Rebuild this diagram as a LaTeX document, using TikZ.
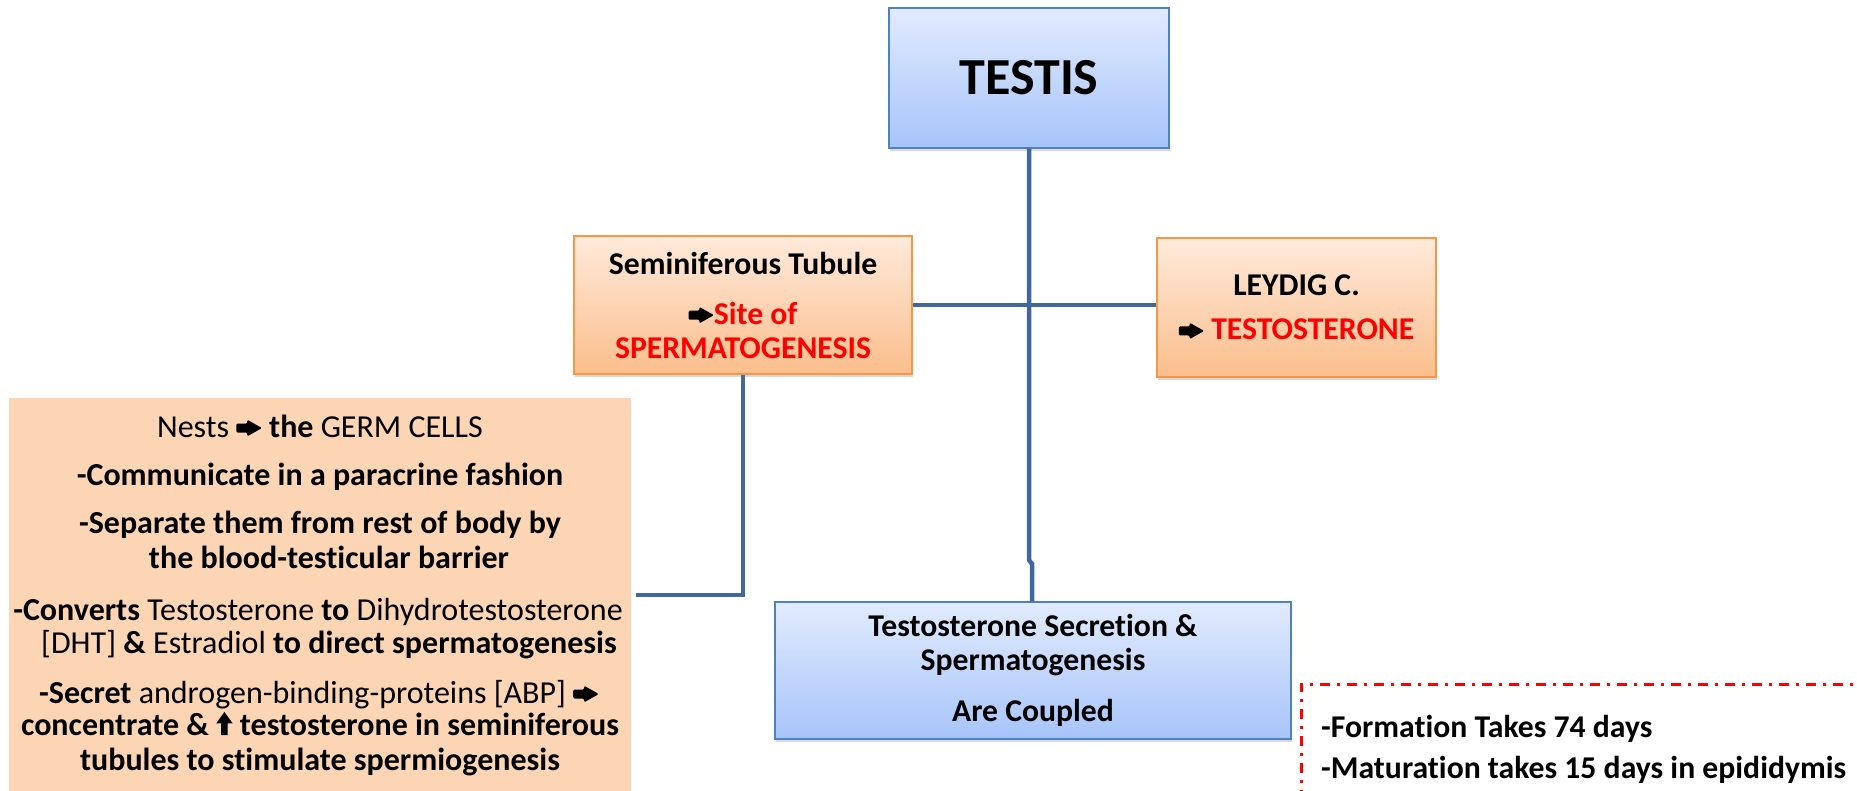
\documentclass[tikz,border=0pt]{standalone}
\usepackage{fontspec}
\setmainfont[Ligatures=NoCommon]{Carlito}
\usetikzlibrary{shadows}
\definecolor{bluetop}{HTML}{E1EBFD}
\definecolor{bluebot}{HTML}{A7C4FA}
\definecolor{blueline}{HTML}{4F81BD}
\definecolor{orgtop}{HTML}{FFEADB}
\definecolor{orgbot}{HTML}{FABE8C}
\definecolor{orgline}{HTML}{F79646}
\definecolor{conn}{HTML}{41689D}
\definecolor{peach}{HTML}{FCD5B5}
\definecolor{redtxt}{HTML}{FF0000}
\newcommand{\rarr}{\tikz[baseline=0pt]{\fill[black,rounded corners=0.04em] (0,0.14em) -- (0.34em,0.14em) -- (0.34em,0.02em) -- (0.8em,0.28em) -- (0.34em,0.54em) -- (0.34em,0.42em) -- (0,0.42em) -- cycle;}}
\newcommand{\uarr}{\tikz[baseline=0pt]{\fill[black] (-0.1em,0) -- (0.1em,0) -- (0.1em,0.36em) -- (0.26em,0.36em) -- (0,0.72em) -- (-0.26em,0.36em) -- (-0.1em,0.36em) -- cycle;}}
\begin{document}
\begin{tikzpicture}[x=1pt,y=-1pt,
  boxshadow/.style={drop shadow={opacity=0.3,shadow xshift=1pt,shadow yshift=-3pt}},
  bluebox/.style={draw=blueline,line width=1.5pt,top color=bluetop,bottom color=bluebot,boxshadow,align=center,inner sep=0pt},
  orgbox/.style={draw=orgline,line width=1.5pt,top color=orgtop,bottom color=orgbot,boxshadow,align=center,inner sep=0pt},
  link/.style={draw=conn,line width=4.5pt},
  bodyfont/.style={font=\fontsize{32}{35}\selectfont},
  boldfont/.style={font=\bfseries\fontsize{31.7}{34}\selectfont},
  ltext/.style={anchor=base,inner sep=0pt,bodyfont},
]
\useasboundingbox (0,0) rectangle (1857,791);
\clip (0,0) rectangle (1857,791);

% boxes
\node[bluebox,minimum width=280pt,minimum height=140pt,font=\bfseries\fontsize{52}{60}\selectfont] (testis) at (1029,78) {TESTIS};
\node[orgbox,minimum width=338pt,minimum height=138pt,boldfont] (st) at (743,305)
  {Seminiferous Tubule\\[16pt]\rarr\textcolor{redtxt}{Site of}\\\textcolor{redtxt}{SPERMATOGENESIS}};
\node[orgbox,minimum width=279pt,minimum height=139pt,boldfont] (leydig) at (1296.5,307.5)
  {LEYDIG C.\\[10pt]\rarr\ \textcolor{redtxt}{TESTOSTERONE}};
\node[bluebox,minimum width=516pt,minimum height=137pt,boldfont] (coupled) at (1033,670.5)
  {Testosterone Secretion \&\\Spermatogenesis\\[17pt]Are Coupled};
\node[fill=peach,inner sep=0pt,minimum width=622pt,minimum height=402pt,anchor=north west] (germ) at (9,398) {};

% left text
\node[ltext] (l1) at (320,437) {Nests \rarr\ \textbf{the} GERM CELLS};
\node[ltext] (l2) at (320,485) {\textbf{-Communicate in a paracrine fashion}};
\node[ltext] (l3) at (320,533) {\textbf{-Separate them from rest of body by}};
\node[ltext] (l4) at (329,568) {\textbf{the blood-testicular barrier}};
\node[ltext] (l5) at (318,620) {\textbf{-Converts} Testosterone \textbf{to} Dihydrotestosterone};
\node[ltext] (l6) at (329,653) {[DHT] \textbf{\&} Estradiol \textbf{to direct spermatogenesis}};
\node[ltext] (l7) at (319,703) {\textbf{-Secret} androgen-binding-proteins [ABP] \rarr};
\node[ltext] (l8) at (320,735) {\textbf{concentrate \& \uarr\ testosterone in seminiferous}};
\node[ltext] (l9) at (320,770) {\textbf{tubules to stimulate spermiogenesis}};

% connectors
\coordinate (jog1) at (1029,560);
\coordinate (jog2) at (1032,564);
\draw[link] (testis.south) -- (jog1) -- (jog2) -- (jog2 |- coupled.north);
\draw[link] (st.east) -- (st.east -| leydig.west);
\coordinate (gend) at (636,595);
\draw[link] (st.south) |- (gend);

% dashed note
\coordinate (dtr) at (1870,684);
\coordinate (dtl) at (1301,684);
\coordinate (dbl) at (1301,800);
\draw[redtxt,line width=3pt,dash pattern=on 10pt off 7pt on 3pt off 7pt] (dtr) -- (dtl) -- (dbl);
\node[anchor=base west,inner sep=0pt,boldfont] (f1) at (1321,737) {-Formation Takes 74 days};
\node[anchor=base west,inner sep=0pt,boldfont] (f2) at (1321,778) {-Maturation takes 15 days in epididymis};
\end{tikzpicture}
\end{document}
